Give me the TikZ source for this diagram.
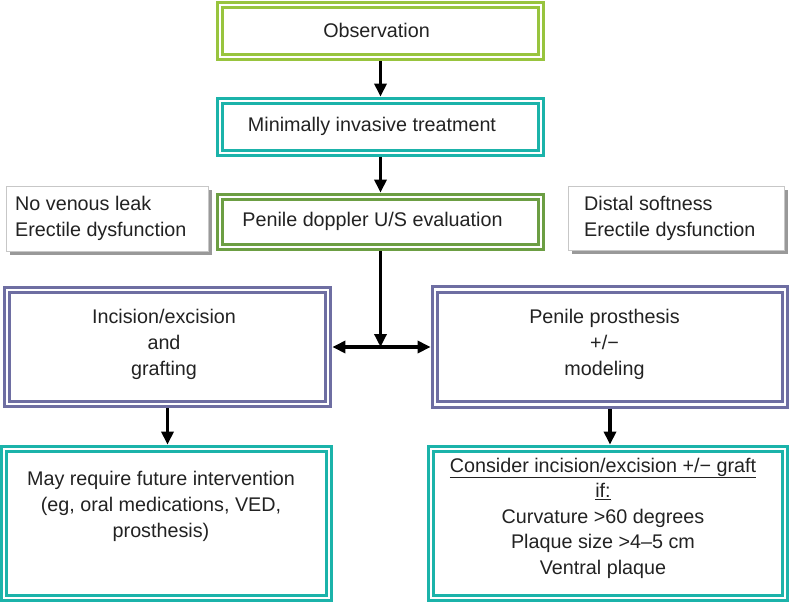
\documentclass[tikz,border=0pt]{standalone}
\usepackage{fontspec}
\setmainfont{Liberation Sans}
\usetikzlibrary{arrows.meta}
\definecolor{obsg}{HTML}{98C43E}
\definecolor{tealc}{HTML}{1BB3AA}
\definecolor{dopg}{HTML}{6C9E43}
\definecolor{purp}{HTML}{6E6EA2}
\definecolor{txtc}{HTML}{222222}
\begin{document}
\begin{tikzpicture}[x=1pt,y=-1pt,
  dbox/.style={draw=#1, line width=3.3pt, double=white, double distance=2.2pt,
    outer sep=4.4pt, inner sep=0pt},
  lbl/.style={text=txtc, align=center, inner sep=0pt,
    font=\fontsize{19.75}{26}\selectfont},
  sbox/.style={draw=black!22, line width=0.8pt, fill=white, inner sep=0pt},
  shd/.style={fill=black!40},
  arr/.style={line width=3.4pt, -{Triangle[length=13pt,width=12pt]}},
  darr/.style={line width=3.4pt, {Triangle[length=13pt,width=12pt]}-{Triangle[length=13pt,width=12pt]}}
]
\useasboundingbox (0,0) rectangle (794,603);

% main boxes
\node[dbox=obsg, minimum width=321pt, minimum height=52pt] (obs) at (380.5,31) {};
\node[dbox=tealc, minimum width=321pt, minimum height=52pt] (min) at (380.5,127) {};
\node[dbox=dopg, minimum width=321pt, minimum height=50pt] (dop) at (380.5,222) {};
\node[dbox=purp, minimum width=321pt, minimum height=114pt] (inc) at (167.5,347) {};
\node[dbox=purp, minimum width=350pt, minimum height=115pt] (pro) at (610,347) {};
\node[dbox=tealc, minimum width=325pt, minimum height=149pt] (may) at (166.5,523.5) {};
\node[dbox=tealc, minimum width=354pt, minimum height=149pt] (con) at (608,523.5) {};

% texts
\node[lbl] (obst) at (376.5,30) {Observation};
\node[lbl] (mint) at (372,126) {Minimally invasive treatment};
\node[lbl] (dopt) at (372.5,221) {Penile doppler U/S evaluation};
\node[lbl] (inct) at (164,344) {Incision/excision\\and\\grafting};
\node[lbl] (prot) at (604.5,344) {Penile prosthesis\\+/−\\modeling};
\node[lbl] (mayt) at (161,506) {May require future intervention\\(eg, oral medications, VED,\\prosthesis)};
\node[lbl, font=\fontsize{19.75}{25.5}\selectfont] (cont) at (603,518)
  {\underline{Consider incision/excision +/− graft}\\\underline{if:}\\Curvature >60 degrees\\Plaque size >4–5 cm\\Ventral plaque};

% side note boxes with shadow
\fill[shd] (10,190) rectangle (212,255);
\node[sbox, anchor=north west, minimum width=202pt, minimum height=65pt] (nvl) at (6,186) {};
\node[lbl, align=left, anchor=west] (nvlt) at (15,218.5) {No venous leak\\Erectile dysfunction};
\fill[shd] (572,190) rectangle (788,254);
\node[sbox, anchor=north west, minimum width=216pt, minimum height=64pt] (dst) at (568,186) {};
\node[lbl, align=left, anchor=west] (dstt) at (584,218.5) {Distal softness\\Erectile dysfunction};

% connectors
\coordinate (J) at (dop.south |- inc.east);
\draw[arr] (obs.south) -- (min.north);
\draw[arr] (min.south) -- (dop.north);
\draw[arr] (dop.south) -- (J);
\draw[darr] (inc.east) -- (pro.west);
\draw[arr] (inc.south) -- (inc.south |- may.north);
\draw[arr] (pro.south) -- (pro.south |- con.north);
\end{tikzpicture}
\end{document}
